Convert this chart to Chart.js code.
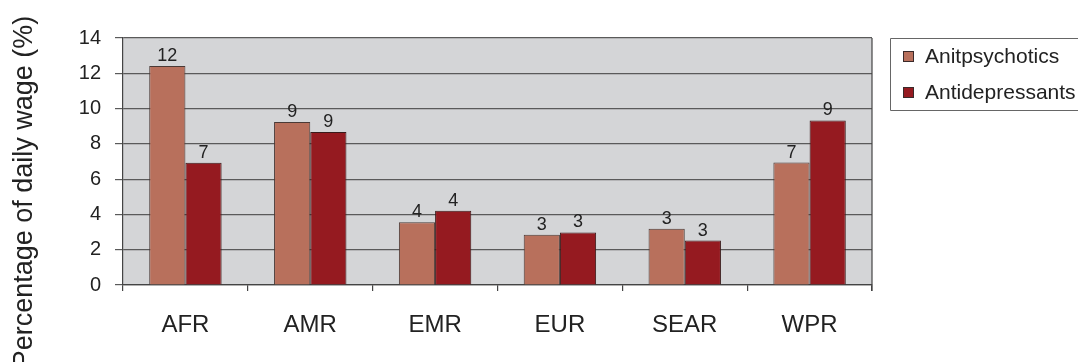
<!DOCTYPE html>
<html>
<head>
<meta charset="utf-8">
<script src="https://cdn.jsdelivr.net/npm/chart.js@4/dist/chart.umd.min.js"></script>
<style>
html,body{margin:0;padding:0;background:#fff;}
#wrap{position:relative;width:1078px;height:362px;}
</style>
</head>
<body>
<div id="wrap"><canvas id="c" width="1078" height="362"></canvas></div>
<script>
const categories = ['AFR', 'AMR', 'EMR', 'EUR', 'SEAR', 'WPR'];
const antipsychotics = [12.42, 9.24, 3.55, 2.85, 3.19, 6.94];
const antidepressants = [6.93, 8.67, 4.21, 2.98, 2.52, 9.33];
const seriesNames = ['Anitpsychotics', 'Antidepressants'];
const yTicks = [0, 2, 4, 6, 8, 10, 12, 14];
const yTitle = 'Percentage of daily wage (%)';

const FONT = '"Liberation Sans", Arial, sans-serif';
const colors = ['#b8705c', '#951a20'];

const areaPlugin = {
  id: 'area',
  beforeDraw(chart) {
    const {ctx, chartArea: a} = chart;
    ctx.save();
    ctx.fillStyle = '#d4d5d7';
    ctx.fillRect(a.left, a.top, a.right - a.left, a.bottom - a.top);
    ctx.restore();
  },
  afterDatasetsDraw(chart) {
    const {ctx, chartArea: a} = chart;
    ctx.save();
    ctx.strokeStyle = '#444';
    ctx.lineWidth = 1.2;
    ctx.beginPath();
    ctx.moveTo(a.right, a.top);
    ctx.lineTo(a.right, a.bottom + 6);
    ctx.stroke();
    // value labels
    ctx.fillStyle = '#222';
    ctx.font = '18px ' + FONT;
    ctx.textAlign = 'center';
    ctx.textBaseline = 'alphabetic';
    chart.data.datasets.forEach((ds, i) => {
      const meta = chart.getDatasetMeta(i);
      meta.data.forEach((bar, j) => {
        ctx.fillText(String(Math.round(ds.data[j])), bar.x, bar.y - 5);
      });
    });
    // y title
    ctx.fillStyle = '#222';
    ctx.font = '27px ' + FONT;
    ctx.translate(25, 192);
    ctx.rotate(-Math.PI / 2);
    ctx.textAlign = 'center';
    ctx.textBaseline = 'middle';
    ctx.fillText(yTitle, 0, 0);
    ctx.restore();
    // legend
    ctx.save();
    ctx.strokeStyle = '#666';
    ctx.lineWidth = 1;
    ctx.beginPath();
    ctx.moveTo(1078, 38.5); ctx.lineTo(890.5, 38.5); ctx.lineTo(890.5, 110.5); ctx.lineTo(1078, 110.5);
    ctx.stroke();
    ctx.font = '21px ' + FONT;
    ctx.textBaseline = 'middle';
    ctx.textAlign = 'left';
    const ys = [57, 93];
    seriesNames.forEach((n, i) => {
      ctx.fillStyle = colors[i];
      ctx.fillRect(903, ys[i] - 6, 11, 11);
      ctx.strokeStyle = '#3a2a2a';
      ctx.strokeRect(903.5, ys[i] - 5.5, 10, 10);
      ctx.fillStyle = '#222';
      ctx.fillText(n, 925, ys[i]);
    });
    ctx.restore();
  }
};

new Chart(document.getElementById('c'), {
  type: 'bar',
  data: {
    labels: categories,
    datasets: [
      {label: seriesNames[0], data: antipsychotics, backgroundColor: colors[0], borderColor: '#4a3a36', borderWidth: 1, categoryPercentage: 0.58, barPercentage: 1},
      {label: seriesNames[1], data: antidepressants, backgroundColor: colors[1], borderColor: '#3a1a1a', borderWidth: 1, categoryPercentage: 0.58, barPercentage: 1}
    ]
  },
  options: {
    responsive: false,
    animation: false,
    devicePixelRatio: 1,
    layout: {padding: {top: 38, right: 206, left: 0, bottom: 0}},
    plugins: {legend: {display: false}, tooltip: {enabled: false}},
    scales: {
      x: {
        grid: {display: true, drawOnChartArea: false, drawTicks: true, tickLength: 6, color: '#444', lineWidth: 1.2, offset: true},
        border: {display: true, color: '#444', width: 1.2},
        ticks: {font: {size: 24, family: FONT}, color: '#222', padding: 20},
        afterFit(s) { s.height = 77; }
      },
      y: {
        min: 0, max: 14,
        afterBuildTicks(s) { s.ticks = yTicks.map(v => ({value: v})); },
        grid: {color: '#5a5a5a', lineWidth: 1.2, tickLength: 8, drawTicks: true},
        border: {display: true, color: '#444', width: 1.2},
        ticks: {font: {size: 20, family: FONT}, color: '#222', padding: 14},
        afterFit(s) { s.width = 123; }
      }
    }
  },
  plugins: [areaPlugin]
});
</script>
</body>
</html>
